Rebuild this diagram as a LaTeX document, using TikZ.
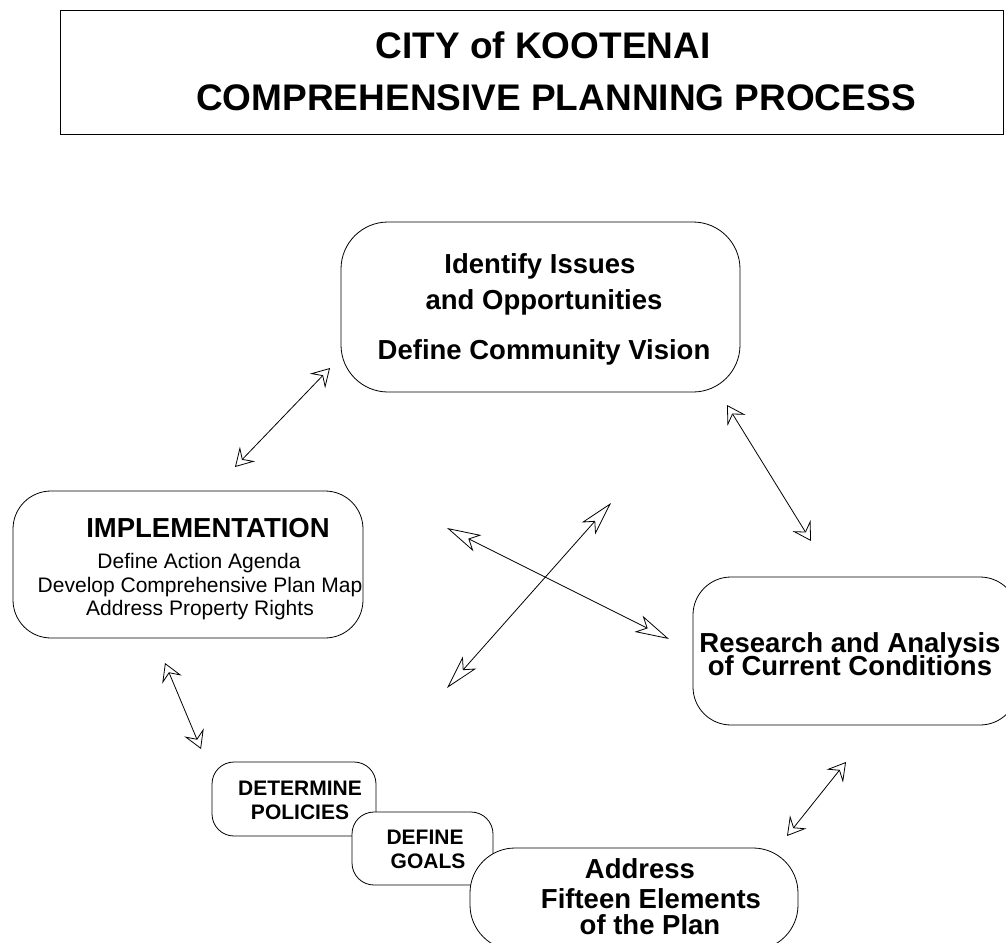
\documentclass[tikz,border=0pt]{standalone}
\usepackage{fontspec}
\setmainfont{Liberation Sans}
\usetikzlibrary{arrows.meta}
\begin{document}
\begin{tikzpicture}[x=1pt,y=-1pt,
  box/.style={draw=black, line width=0.8pt, fill=white, inner sep=0pt, rectangle},
  lbl/.style={anchor=base, inner sep=0pt},
  ttl/.style={lbl, font=\fontsize{37}{40}\selectfont\bfseries},
  big/.style={lbl, font=\fontsize{27.5}{30}\selectfont\bfseries},
  reg/.style={lbl, font=\fontsize{21}{24}\selectfont},
  sml/.style={lbl, font=\fontsize{21}{24}\selectfont\bfseries},
  cyc/.style={line width=0.8pt, {Stealth[length=18pt,width=21pt,inset=7pt,fill=white]}-{Stealth[length=18pt,width=21pt,inset=7pt,fill=white]}},
  crs/.style={line width=0.8pt, {Stealth[length=34pt,width=18pt,inset=9pt,fill=white]}-{Stealth[length=34pt,width=18pt,inset=9pt,fill=white]}}
]
\useasboundingbox (0,0) rectangle (1006,942);
\clip (0,0) rectangle (1006,942);

% title frame
\node[box, line width=1pt, minimum width=943, minimum height=123] (title) at (531.5,72.5) {};
\node[ttl] (title1) at (543,59) {CITY of KOOTENAI};
\node[ttl] (title2) at (556,110) {COMPREHENSIVE PLANNING PROCESS};

% process stages
\node[box, rounded corners=47, minimum width=399, minimum height=170] (issues) at (540.5,307) {};
\node[big] (issues1) at (540,273) {Identify Issues};
\node[big] (issues2) at (544,309) {and Opportunities};
\node[big] (issues3) at (544,359) {Define Community Vision};

\node[box, rounded corners=38, minimum width=350, minimum height=147] (impl) at (188,564.5) {};
\node[big] (impl1) at (208,537) {IMPLEMENTATION};
\node[reg] (impl2) at (199,568) {Define Action Agenda};
\node[reg] (impl3) at (200,592) {Develop Comprehensive Plan Map};
\node[reg] (impl4) at (200,615) {Address Property Rights};

\node[box, rounded corners=38, minimum width=325, minimum height=148] (research) at (855.5,651) {};
\node[big] (research1) at (850,652) {Research and Analysis};
\node[big] (research2) at (850,675) {of Current Conditions};

\node[box, rounded corners=22, minimum width=164, minimum height=74] (policies) at (294,799) {};
\node[sml] (policies1) at (300,795) {DETERMINE};
\node[sml] (policies2) at (300,819) {POLICIES};

\node[box, rounded corners=22, minimum width=141, minimum height=73] (goals) at (422.5,848.5) {};
\node[sml] (goals1) at (425,844) {DEFINE};
\node[sml] (goals2) at (428,868) {GOALS};

\node[box, rounded corners=45, minimum width=328, minimum height=102] (elements) at (634,899) {};
\node[big] (elements1) at (640,878) {Address};
\node[big] (elements2) at (651,908) {Fifteen Elements};
\node[big] (elements3) at (650,934) {of the Plan};

% arrow end points
\coordinate (a1s) at (235,467);  \coordinate (a1e) at (330,368);
\coordinate (a2s) at (727,405);  \coordinate (a2e) at (811,541);
\coordinate (a3s) at (846,762);  \coordinate (a3e) at (787,836);
\coordinate (a4s) at (165,663);  \coordinate (a4e) at (201,749);
\coordinate (x1s) at (447,528);  \coordinate (x1e) at (669,639);
\coordinate (x2s) at (611,503);  \coordinate (x2e) at (447,688);

% connections around the cycle
\draw[cyc] (a1s) -- (a1e);
\draw[cyc] (a2s) -- (a2e);
\draw[cyc] (a3s) -- (a3e);
\draw[cyc] (a4s) -- (a4e);

% crossing connections in the middle
\draw[crs] (x1s) -- (x1e);
\draw[crs] (x2s) -- (x2e);
\end{tikzpicture}
\end{document}
